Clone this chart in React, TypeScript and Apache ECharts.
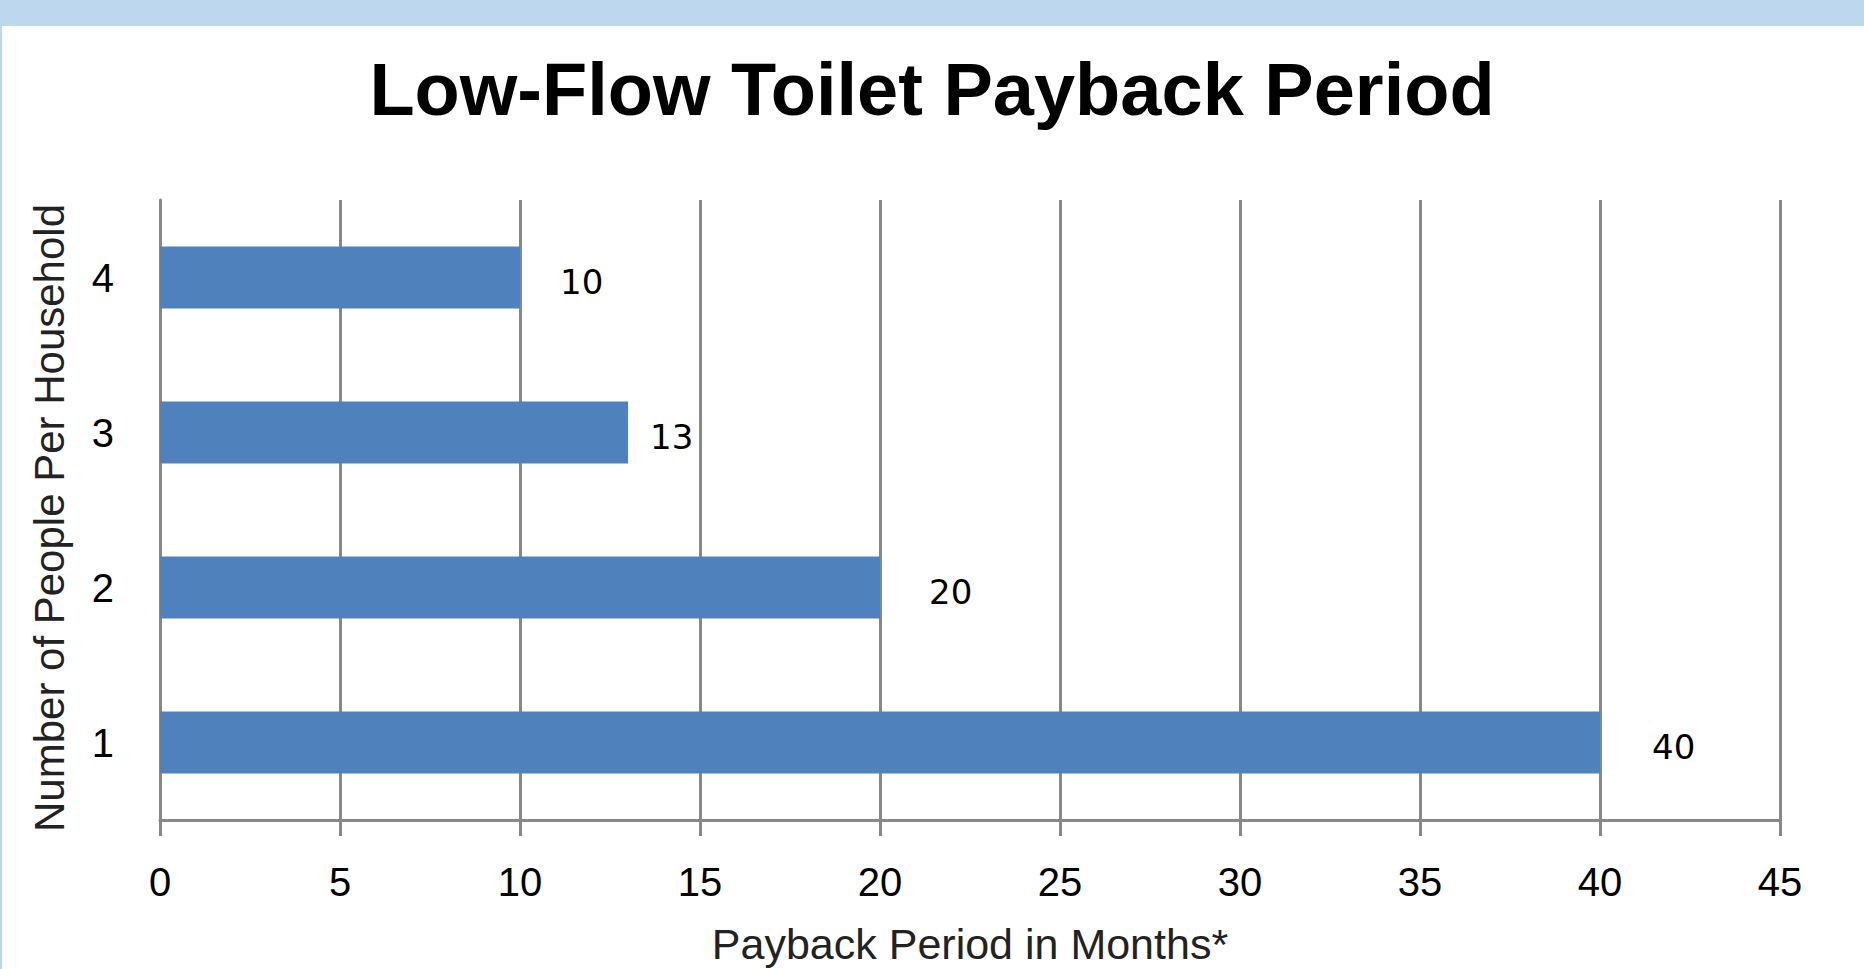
import React, { useEffect, useRef } from "react";
import * as echarts from "echarts";

const titleText = "Low-Flow Toilet Payback Period";
const categories = ["1", "2", "3", "4"];
const paybackMonths = [40, 20, 13, 10];
const xTicks = { min: 0, max: 45, interval: 5 };
const xName = "Payback Period in Months*";
const yName = "Number of People Per Household";
const labelGaps = [52, 49, 22, 40];

const FONT = "'Liberation Sans', Arial, sans-serif";
const GRID = "#888888";

export default function App() {
  const ref = useRef<HTMLDivElement>(null);
  useEffect(() => {
    if (!ref.current) return;
    const chart = echarts.init(ref.current, null, { renderer: "svg" });
    chart.setOption({
      animation: false,
      backgroundColor: "#ffffff",
      graphic: [
        { type: "rect", left: 0, top: 0, shape: { width: 1864, height: 26 }, style: { fill: "#BDD7EE" }, silent: true },
        { type: "rect", left: 0, top: 26, shape: { width: 2, height: 943 }, style: { fill: "#BDD7EE" }, silent: true },
        {
          type: "text",
          left: "center",
          top: 52,
          style: {
            text: titleText,
            font: `bold 74px ${FONT}`,
            fill: "#000000",
          },
        },
      ],
      grid: {
        left: 160,
        right: 84,
        top: 200,
        bottom: 149,
        containLabel: false,
        outerBoundsMode: "none",
      },
      xAxis: {
        type: "value",
        min: xTicks.min,
        max: xTicks.max,
        interval: xTicks.interval,
        name: xName,
        nameLocation: "middle",
        nameGap: 102,
        nameTextStyle: { fontFamily: FONT, fontSize: 43, color: "#222222" },
        axisLine: { show: true, lineStyle: { color: GRID, width: 3 } },
        axisTick: { show: true, length: 16, lineStyle: { color: GRID, width: 3 } },
        axisLabel: { fontFamily: FONT, fontSize: 40, color: "#000000", margin: 42 },
        splitLine: { show: true, lineStyle: { color: GRID, width: 3 } },
      },
      yAxis: {
        type: "category",
        data: categories,
        name: yName,
        nameLocation: "middle",
        nameGap: 90,
        nameRotate: 90,
        nameTextStyle: { fontFamily: FONT, fontSize: 42, color: "#222222", padding: [0, 16, 0, 0] },
        axisLine: { show: true, lineStyle: { color: GRID, width: 3 } },
        axisTick: { show: false },
        axisLabel: { fontFamily: FONT, fontSize: 40, color: "#000000", margin: 46 },
        splitLine: { show: false },
      },
      series: [
        {
          type: "bar",
          data: paybackMonths.map((v, i) => ({
            value: v,
            label: { offset: [labelGaps[i], 4] },
          })),
          barCategoryGap: "60%",
          itemStyle: { color: "#4F81BD" },
          label: {
            show: true,
            position: "right",
            distance: 0,
            fontFamily: "'DejaVu Sans', Verdana, sans-serif",
            fontSize: 34,
            color: "#000000",
          },
        },
      ],
    });
    return () => chart.dispose();
  }, []);
  return (
    <div
      ref={ref}
      style={{ position: "fixed", left: 0, top: 0, width: 1864, height: 969 }}
    />
  );
}
